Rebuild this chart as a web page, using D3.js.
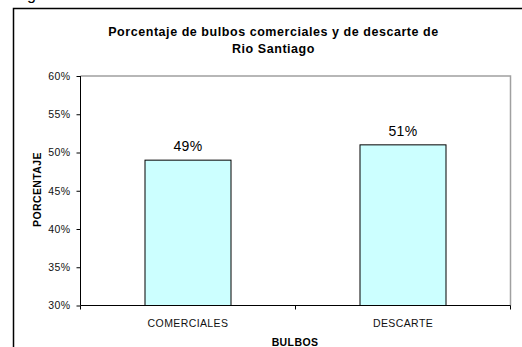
<!DOCTYPE html>
<html>
<head>
<meta charset="utf-8">
<script src="https://cdn.jsdelivr.net/npm/d3@7"></script>
<style>
  html, body { margin: 0; padding: 0; background: #fff; }
  svg { display: block; }
  text { font-family: Arial, "Liberation Sans", sans-serif; }
</style>
</head>
<body>
<svg id="chart" width="522" height="347"></svg>
<script>
const categories = ["COMERCIALES", "DESCARTE"];
const values = [0.49, 0.51];
const valueLabels = ["49%", "51%"];
const yTicks = [0.30, 0.35, 0.40, 0.45, 0.50, 0.55, 0.60];
const titleLines = ["Porcentaje de bulbos comerciales y de descarte de", "Rio Santiago"];
const xTitle = "BULBOS";
const yTitle = "PORCENTAJE";

const svg = d3.select("#chart");
const plot = { left: 80.5, right: 510.5, top: 76, bottom: 305.5 };

// partial text above frame (cut off at top edge, as in the reference)
svg.append("text").attr("x", 27).attr("y", 0).attr("font-size", 16).attr("fill", "#000").text("g");

// outer frame
svg.append("rect").attr("x", 13.5).attr("y", 8.5).attr("width", 700).attr("height", 500)
  .attr("fill", "none").attr("stroke", "#000").attr("stroke-width", 1.5);

// title
const title = svg.append("text").attr("text-anchor", "middle").attr("font-size", 12.5)
  .attr("letter-spacing", 0.55).attr("font-weight", "bold").attr("fill", "#000");
title.selectAll("tspan").data(titleLines).join("tspan")
  .attr("x", 273.5).attr("y", (d, i) => 36 + i * 17.3).text(d => d);

const x = d3.scaleBand().domain(categories).range([plot.left, plot.right]).paddingInner(0).paddingOuter(0);
const y = d3.scaleLinear().domain([0.30, 0.60]).range([plot.bottom, plot.top]);

// plot border (top/right gray)
svg.append("path")
  .attr("d", `M${plot.left},${plot.top}H${plot.right}V${plot.bottom}`)
  .attr("fill", "none").attr("stroke", "#a0a0a0").attr("stroke-width", 1.5);

// bars
const barW = x.bandwidth() * 0.4;
svg.append("g").selectAll("rect").data(categories).join("rect")
  .attr("x", d => x(d) + (x.bandwidth() - barW) / 2)
  .attr("y", (d, i) => y(values[i]))
  .attr("width", barW)
  .attr("height", (d, i) => y(0.30) - y(values[i]))
  .attr("fill", "#ccffff").attr("stroke", "#000").attr("stroke-width", 1);

// value labels
svg.append("g").selectAll("text").data(categories).join("text")
  .attr("x", d => x(d) + x.bandwidth() / 2)
  .attr("y", (d, i) => y(values[i]) - 9)
  .attr("text-anchor", "middle").attr("font-size", 14).attr("letter-spacing", 0.4).attr("fill", "#000")
  .text((d, i) => valueLabels[i]);

// y axis
const yAxis = d3.axisLeft(y).tickValues(yTicks).tickFormat(d3.format(".0%")).tickSize(4).tickPadding(6);
const gy = svg.append("g").attr("transform", `translate(${plot.left},0)`).call(yAxis);
gy.select(".domain").attr("stroke", "#000").attr("d", `M0,${plot.top}V${plot.bottom}`);
gy.selectAll(".tick line").attr("stroke", "#000");
gy.selectAll(".tick text").attr("font-size", 10.5).attr("letter-spacing", 0.4).attr("fill", "#111")
  .attr("font-family", "Arial, 'Liberation Sans', sans-serif");

// x axis
const gx = svg.append("g").attr("transform", `translate(0,${plot.bottom})`);
gx.append("line").attr("x1", plot.left).attr("x2", plot.right).attr("stroke", "#000");
const bounds = [plot.left, ...categories.map(c => x(c) + x.bandwidth())];
gx.selectAll("line.t").data(bounds).join("line").attr("class", "t")
  .attr("x1", d => d).attr("x2", d => d).attr("y1", 0).attr("y2", 4).attr("stroke", "#000");
gx.selectAll("text").data(categories).join("text")
  .attr("x", d => x(d) + x.bandwidth() / 2).attr("y", 21)
  .attr("text-anchor", "middle").attr("font-size", 10.5).attr("letter-spacing", 0.4).attr("fill", "#111").text(d => d);

// axis titles
svg.append("text").attr("x", 295).attr("y", 345.5).attr("text-anchor", "middle")
  .attr("font-size", 10.5).attr("letter-spacing", 0.4).attr("font-weight", "bold").attr("fill", "#000").text(xTitle);
svg.append("text").attr("transform", "translate(40.5,189.5) rotate(-90)").attr("text-anchor", "middle")
  .attr("font-size", 10.5).attr("letter-spacing", 0.4).attr("font-weight", "bold").attr("fill", "#000").text(yTitle);
</script>
</body>
</html>
